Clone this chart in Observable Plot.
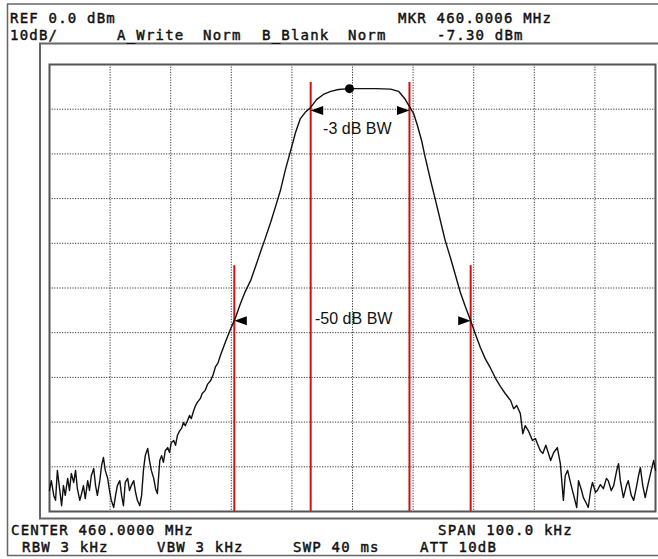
<!DOCTYPE html>
<html><head><meta charset="utf-8">
<script src="https://cdn.jsdelivr.net/npm/d3@7"></script>
<script src="https://cdn.jsdelivr.net/npm/@observablehq/plot@0.6"></script>
<style>
html,body{margin:0;padding:0;background:#fff;}
#wrap{position:relative;width:658px;height:559px;overflow:hidden;background:#fff;}
#wrap svg{position:absolute;left:0;top:0;}
</style></head><body><div id="wrap"></div>
<script>
// Frequency offset from 460.0000 MHz (kHz) and level (dBm)
const traceKHz = [
 -50.0,-49.7,-49.3,-49.0,-48.7,-48.3,-48.0,-47.7,-47.4,-47.0,-46.7,-46.4,-46.0,-45.7,-45.4,-45.0,-44.7,-44.4,-44.1,-43.7,
 -43.4,-43.1,-42.7,-42.4,-42.1,-41.7,-41.4,-41.1,-40.8,-40.4,-40.1,-39.8,-39.4,-39.1,-38.8,-38.4,-38.1,-37.8,-37.5,-37.1,
 -36.8,-36.5,-36.1,-35.8,-35.5,-35.1,-34.8,-34.5,-34.2,-33.8,-33.5,-33.2,-32.8,-32.5,-32.2,-31.8,-31.5,-31.2,-30.9,-30.5,
 -30.2,-29.9,-29.5,-29.2,-28.9,-28.5,-28.2,-27.9,-27.6,-27.2,-26.9,-26.6,-26.2,-25.9,-25.6,
 -25.1,-24.8,-24.3,-23.9,-23.4,-23.0,-22.6,-22.2,-21.8,-21.0,-20.1,-19.3,-18.5,-17.7,-16.8,-16.0,-15.2,-14.4,-13.5,-12.7,
 -11.9,-11.1,-10.2,-9.4,-8.6,-7.8,-6.9,-5.9,-4.8,-3.6,-2.3,-0.5,1.8,3.8,6.3,7.6,8.6,9.4,10.1,10.7,11.4,12.0,12.9,13.7,
 14.5,15.3,16.2,17.0,17.8,18.6,19.5,20.3,21.1,21.9,22.8,23.6,24.4,25.2,
 26.1,26.6,27.1,27.7,28.1,28.5,29.0,29.7,30.2,30.5,31.0,31.4,31.9,32.2,32.7,33.2,33.8,34.3,34.8,35.1,35.5,36.0,36.5,37.0,
 37.3,37.8,38.1,38.6,38.9,39.3,39.6,40.1,40.4,40.9,41.4,41.9,42.2,42.7,43.1,43.6,43.9,44.2,44.7,45.2,45.5,46.0,46.4,46.9,
 47.2,47.5,47.9,48.3,48.8,49.3,49.7,50.0
];
const traceDbm = [
 -95.3,-93.1,-96.4,-97.5,-90.8,-95.3,-98.7,-94.2,-96.4,-92.6,-95.3,-91.5,-93.5,-90.8,-94.9,-97.5,-96.0,-94.2,-97.1,-93.1,
 -95.3,-92.0,-90.4,-94.2,-96.4,-93.1,-89.7,-87.9,-90.8,-92.6,-95.3,-97.5,-99.1,-96.4,-94.2,-93.1,-96.4,-98.7,-93.5,-92.6,
 -95.3,-94.2,-93.1,-95.7,-97.5,-98.7,-96.4,-90.8,-87.5,-85.9,-88.6,-90.8,-92.6,-94.9,-96.0,-88.6,-87.5,-89.0,-86.4,-85.7,
 -86.8,-84.6,-84.1,-85.2,-83.0,-81.9,-81.4,-80.1,-80.8,-79.6,-78.5,-79.2,-77.4,-76.3,-75.6,
 -74.7,-73.6,-72.9,-71.5,-70.7,-69.4,-67.6,-66.8,-65.1,-62.2,-59.1,-56.6,-53.5,-50.8,-48.3,-45.2,-42.0,-38.9,-35.3,-31.8,
 -28.2,-23.7,-19.2,-15.2,-12.1,-10.7,-9.6,-7.8,-6.7,-6.0,-5.6,-5.4,-5.4,-5.4,-5.5,-6.0,-7.6,-9.4,-11.0,-13.6,-17.0,-20.8,-26.0,-30.4,
 -34.9,-39.4,-43.4,-47.2,-51.0,-54.1,-57.3,-60.4,-63.3,-65.8,-68.0,-70.2,-72.0,-73.6,
 -75.2,-77.0,-76.3,-78.1,-82.6,-80.8,-81.9,-84.1,-83.7,-84.8,-86.4,-87.0,-85.2,-86.4,-88.6,-86.8,-85.7,-89.3,-97.5,-92.0,-90.8,-93.7,-96.4,-99.1,
 -93.1,-95.3,-96.9,-98.2,-99.1,-95.3,-93.5,-95.7,-95.3,-94.0,-94.9,-92.6,-93.1,-95.3,-94.2,-90.8,-89.3,-93.1,-96.9,-94.2,-93.1,-96.4,-97.5,-94.2,
 -92.0,-90.2,-94.2,-96.9,-93.7,-90.8,-88.6,-90.8
];
const xGrid = [-40,-30,-20,-10,0,10,20,30,40];
const yGrid = [-90,-80,-70,-60,-50,-40,-30,-20,-10];
const bwLineKHz = [-6.9, 9.4, -19.5, 19.5];
const bwLineTop = [-4.0, -4.0, -45.0, -45.0];
const arrowKHz = [-6.9, 9.4, -19.5, 19.5];
const arrowDbm = [-10.3, -10.3, -57.3, -57.3];
const arrowDir = ["left", "right", "left", "right"];
const bwLabels = ["-3 dB BW", "-50 dB BW"];
const bwLabelKHz = [0.8, 0.2];
const bwLabelDbm = [-14.5, -56.8];
const markerKHz = [-0.5];
const markerDbm = [-5.4];
const headerTexts = ["REF 0.0 dBm", "MKR 460.0006 MHz", "10dB/", "A_Write", "Norm", "B_Blank", "Norm", "-7.30 dBm"];
const footerTexts = ["CENTER 460.0000 MHz", "SPAN 100.0 kHz", "RBW 3 kHz", "VBW 3 kHz", "SWP 40 ms", "ATT 10dB"];

const trace = traceKHz.map((k, i) => ({kHz: k, dbm: traceDbm[i]}));
const bwLines = bwLineKHz.map((k, i) => ({kHz: k, top: bwLineTop[i]}));
const arrows = arrowKHz.map((k, i) => ({kHz: k, dbm: arrowDbm[i], rot: arrowDir[i] === "left" ? 0 : 180}));
const labels = bwLabels.map((t, i) => ({text: t, kHz: bwLabelKHz[i], dbm: bwLabelDbm[i]}));
const marker = markerKHz.map((k, i) => ({kHz: k, dbm: markerDbm[i]}));

const arrowHead = {draw(ctx) { ctx.moveTo(0, 0); ctx.lineTo(12.5, -4.5); ctx.lineTo(12.5, 4.5); ctx.closePath(); }};

const chart = Plot.plot({
  width: 658, height: 559,
  marginLeft: 49, marginRight: 3, marginTop: 64, marginBottom: 48,
  x: {domain: [-50, 50], axis: null},
  y: {domain: [-100, 0], axis: null},
  style: {background: "transparent", overflow: "visible"},
  marks: [
    Plot.gridX(xGrid, {stroke: "#3a3a3a", strokeOpacity: 1, strokeWidth: 1, strokeDasharray: "1.2,1.4"}),
    Plot.gridY(yGrid, {stroke: "#3a3a3a", strokeOpacity: 1, strokeWidth: 1, strokeDasharray: "1.2,1.4"}),
    Plot.frame({stroke: "#555", strokeWidth: 2}),
    Plot.ruleX(bwLines, {x: "kHz", y1: "top", y2: -100, stroke: "#d41010", strokeWidth: 2}),
    Plot.line(trace, {x: "kHz", y: "dbm", stroke: "#111", strokeWidth: 1.4}),
    Plot.dot(arrows, {x: "kHz", y: "dbm", symbol: arrowHead, rotate: "rot", fill: "#000", stroke: "none"}),
    Plot.dot(marker, {x: "kHz", y: "dbm", r: 4.5, fill: "#000", stroke: "none"}),
    Plot.text(labels, {x: "kHz", y: "dbm", text: "text", fontSize: 16, fontFamily: "Liberation Sans, Arial, sans-serif", fill: "#111"})
  ]
});

const wrap = document.getElementById("wrap");
wrap.appendChild(chart);

// overlay: instrument screen frame and annotation text
const ov = d3.create("svg").attr("width", 658).attr("height", 559).style("overflow", "visible");
const lineC = "#666";
const seg = (x1, y1, x2, y2, w) => ov.append("line").attr("x1", x1).attr("y1", y1).attr("x2", x2).attr("y2", y2)
  .attr("stroke", lineC).attr("stroke-width", w);
seg(7.5, 4, 7.5, 556, 1.5);
seg(7, 4, 658, 4, 1.5);
seg(7, 555.5, 658, 555.5, 1.5);
seg(39, 43.5, 658, 43.5, 2);
seg(40, 43, 40, 519, 2);
seg(39, 518.5, 658, 518.5, 2);

const tpos = [[10, 23], [398, 23], [10, 40], [117, 40], [203, 40], [262, 40], [348, 40], [437, 40]];
const fpos = [[11, 535], [438, 535], [22, 552], [157, 552], [293, 552], [420, 552]];
const addText = (t, p) => ov.append("text").attr("x", p[0]).attr("y", p[1]).text(t)
  .attr("font-family", "DejaVu Sans Mono, monospace").attr("font-size", 14).attr("letter-spacing", 1.2)
  .attr("fill", "#111").attr("stroke", "#111").attr("stroke-width", 0.45)
  .attr("xml:space", "preserve").style("white-space", "pre");
headerTexts.forEach((t, i) => addText(t, tpos[i]));
footerTexts.forEach((t, i) => addText(t, fpos[i]));
wrap.appendChild(ov.node());
</script></body></html>
